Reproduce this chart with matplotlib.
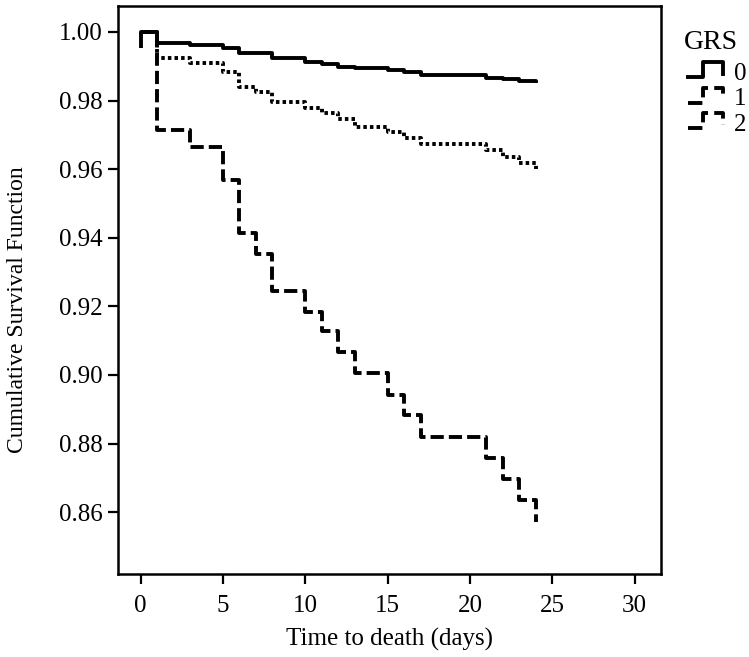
import numpy as np
import matplotlib.pyplot as plt
from matplotlib.lines import Line2D
from matplotlib.legend_handler import HandlerBase

plt.rcParams['font.family'] = ['Liberation Serif', 'DejaVu Serif']

# step points (time in days, cumulative survival)
t0 = [0, 0, 1, 3, 5, 6, 8, 10, 11, 12, 13, 15, 16, 17, 21, 22, 23, 24]
s0 = [0.9953, 1.0, 0.9968, 0.9962, 0.9953, 0.9938, 0.9923, 0.9913, 0.9906,
      0.9899, 0.9894, 0.9889, 0.9882, 0.9875, 0.9867, 0.9862, 0.9856, 0.9852]

t1 = [0, 1, 3, 5, 6, 7, 8, 10, 11, 12, 13, 15, 16, 17, 21, 22, 23, 24, 24]
s1 = [1.0, 0.9923, 0.9909, 0.9884, 0.9841, 0.9826, 0.9797, 0.9777, 0.9763,
      0.9745, 0.9724, 0.9709, 0.9691, 0.9672, 0.9656, 0.9636, 0.9619, 0.9610, 0.9600]

t2 = [0, 1, 3, 5, 6, 7, 8, 10, 11, 12, 13, 15, 16, 17, 21, 22, 23, 24, 24]
s2 = [1.0, 0.9714, 0.9666, 0.9568, 0.9413, 0.9354, 0.9246, 0.9184, 0.9127,
      0.9068, 0.9006, 0.8943, 0.8883, 0.882, 0.8758, 0.8696, 0.8635, 0.8625, 0.857]

groups = ['0', '1', '2']
styles = ['-', (0, (0.9, 0.8)), (0, (3.4, 1.3))]
LW = 2.8

fig = plt.figure(figsize=(7.49, 6.57), dpi=100)
ax = fig.add_axes([0.1575, 0.126, 0.725, 0.865])

handles = []
for t, s, ls in zip([t0, t1, t2], [s0, s1, s2], styles):
    ln, = ax.step(t, s, where='post', color='black', lw=LW, ls=ls,
                  solid_capstyle='butt', dash_capstyle='butt')
    handles.append(ln)

ax.set_xlim(-1.37, 31.6)
ax.set_ylim(0.8419, 1.0076)
ax.set_xticks(np.arange(0, 31, 5))
ax.set_yticks(np.arange(0.86, 1.001, 0.02))
ax.yaxis.set_major_formatter(plt.FormatStrFormatter('%.2f'))
ax.tick_params(direction='out', length=7, width=1.6, labelsize=18)
ax.tick_params(axis='x', pad=8)
ax.tick_params(axis='y', pad=4)
for sp in ax.spines.values():
    sp.set_linewidth(1.8)
ax.set_xlabel('Time to death (days)', fontsize=18)
ax.set_ylabel('Cumulative Survival Function', fontsize=17)
ax.xaxis.set_label_coords(0.5, -0.094)
ax.yaxis.set_label_coords(-0.166, 0.465)


class StepHandler(HandlerBase):
    def create_artists(self, legend, orig, x0, y0, w, h, fontsize, trans):
        xs = [x0, x0 + 0.45 * w, x0 + 0.45 * w, x0 + w, x0 + w]
        ys = [y0 + 0.15 * h, y0 + 0.15 * h, y0 + h, y0 + h, y0 + 0.35 * h]
        ln = Line2D(xs, ys, color='black', lw=LW, ls=orig.get_linestyle(),
                    transform=trans)
        return [ln]


fig.text(0.949, 0.936, 'GRS', fontsize=20, ha='center', va='center')
leg = fig.legend(handles, groups, loc='upper left',
                 bbox_to_anchor=(0.918, 0.905), frameon=False, fontsize=18,
                 handler_map={Line2D: StepHandler()},
                 handlelength=1.4, handletextpad=0.45, labelspacing=0.12,
                 borderpad=0, borderaxespad=0)

fig.savefig('out.png', dpi=100)
